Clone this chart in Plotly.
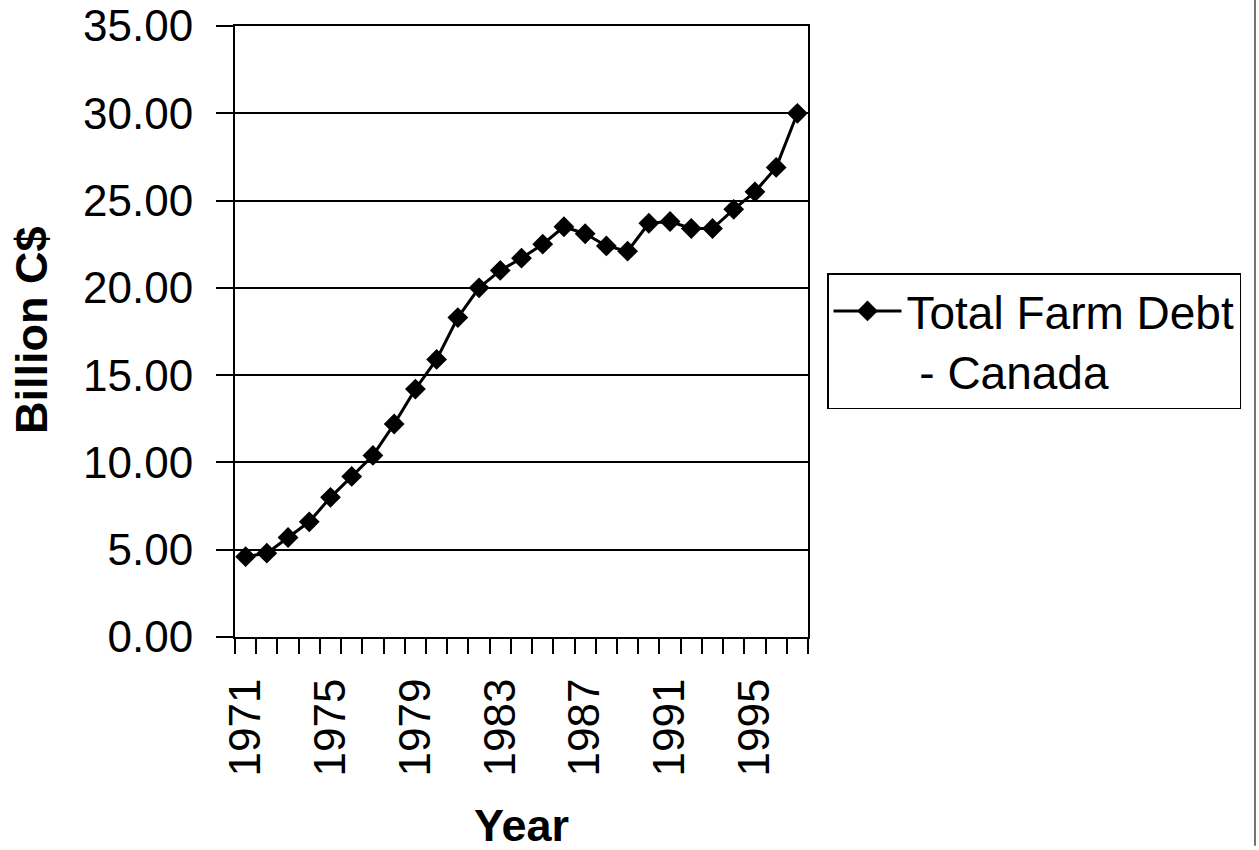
import plotly.graph_objects as go

# Total farm debt in Canada, billions of Canadian dollars
years = list(range(1971, 1998))
debt = [4.6, 4.8, 5.7, 6.6, 8.0, 9.2, 10.4, 12.2, 14.2, 15.9,
        18.3, 20.0, 21.0, 21.7, 22.5, 23.5, 23.1, 22.4, 22.1, 23.7,
        23.8, 23.4, 23.4, 24.5, 25.5, 26.9, 30.0]

label_years = [1971, 1975, 1979, 1983, 1987, 1991, 1995]
y_ticks = [0, 5, 10, 15, 20, 25, 30, 35]

W, H = 1259, 850
FONT = "Liberation Sans, Arial, Helvetica, sans-serif"

# plot-area placement in pixels
px_left, px_right = 235, 808
px_top, px_bottom = 26, 637

fig = go.Figure()
fig.add_trace(go.Scatter(
    x=years, y=debt,
    mode="lines+markers",
    name="Total Farm Debt<br>\u00a0- Canada",
    line=dict(color="black", width=3),
    marker=dict(symbol="diamond", size=16, color="black"),
))

fig.update_layout(
    width=W, height=H,
    margin=dict(l=0, r=0, t=0, b=0, autoexpand=False),
    paper_bgcolor="white",
    plot_bgcolor="white",
    font=dict(family=FONT, size=45, color="black"),
    showlegend=True,
    legend=dict(
        x=827 / W, y=1 - 273 / H,
        xanchor="left", yanchor="top",
        bordercolor="black", borderwidth=1.5,
        bgcolor="white",
        font=dict(family=FONT, size=46, color="black"),
        valign="top",
        itemwidth=68,
    ),
    xaxis=dict(
        domain=[px_left / W, px_right / W],
        range=[1970.5, 1997.5],
        tickmode="array",
        tickvals=label_years,
        ticktext=[str(v) for v in label_years],
        tickangle=-90,
        ticks="",
        ticklabelstandoff=22,
        showgrid=False,
        zeroline=False,
        showline=True, linecolor="black", linewidth=2, mirror=True,
        minor=dict(
            tickmode="linear", tick0=1970.5, dtick=1,
            ticks="outside", ticklen=15, tickwidth=1.5, tickcolor="black",
            showgrid=False,
        ),
        tickfont=dict(family=FONT, size=44, color="black"),
    ),
    yaxis=dict(
        domain=[1 - px_bottom / H, 1 - px_top / H],
        range=[0, 35],
        tickmode="array",
        tickvals=y_ticks,
        tickformat=".2f",
        ticks="outside", ticklen=17, tickwidth=2, tickcolor="black",
        ticklabelstandoff=14,
        showgrid=True, gridcolor="black", gridwidth=2,
        zeroline=False,
        showline=True, linecolor="black", linewidth=2, mirror=True,
        tickfont=dict(family=FONT, size=44, color="black"),
    ),
    annotations=[
        dict(text="<b>Billion C$</b>", textangle=-90,
             xref="paper", yref="paper",
             x=32 / W, y=1 - 330 / H, xanchor="center", yanchor="middle",
             showarrow=False, font=dict(family=FONT, size=45, color="black")),
        dict(text="<b>Year</b>",
             xref="paper", yref="paper",
             x=(px_left + px_right) / 2 / W, y=1 - 825 / H,
             xanchor="center", yanchor="middle",
             showarrow=False, font=dict(family=FONT, size=45, color="black")),
    ],
    shapes=[
        dict(type="line", xref="paper", yref="paper",
             x0=1255 / W, x1=1255 / W, y0=0.005, y1=1,
             line=dict(color="#444444", width=1.5)),
    ],
)

fig.write_html("out.html")
